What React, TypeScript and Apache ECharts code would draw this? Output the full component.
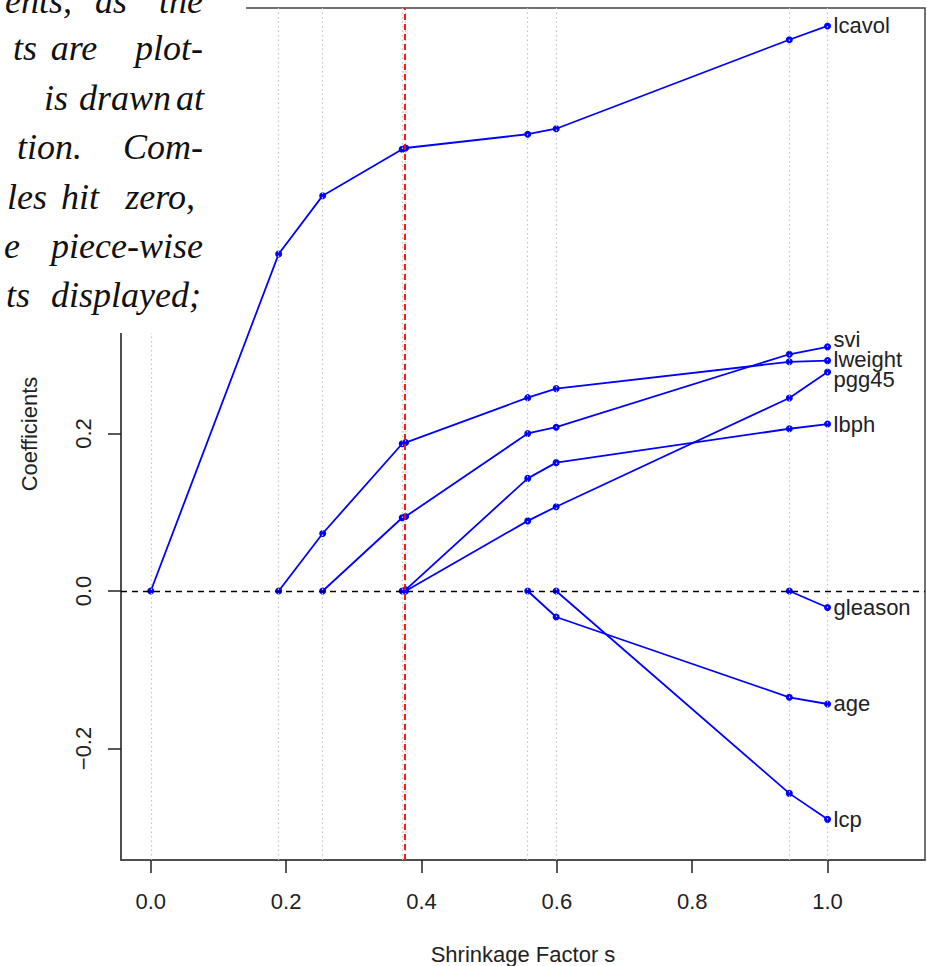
import React, { useEffect, useRef } from "react";
import * as echarts from "echarts";

// Shrinkage factor s at each step of the lasso path
const sValues = [0, 0.189, 0.254, 0.3715, 0.3765, 0.557, 0.599, 0.9435, 1.0];

// Coefficient values per variable at each s (null = not yet in the model)
const lcavol = [0, 0.428, 0.502, 0.561, 0.5625, 0.58, 0.587, 0.7, 0.7175];
const lweight = [null, 0, 0.073, 0.187, 0.1885, 0.2455, 0.257, 0.291, 0.2925];
const svi = [null, null, 0, 0.093, 0.0945, 0.2, 0.208, 0.3006, 0.31];
const lbph = [null, null, null, 0, 0.0015, 0.143, 0.163, 0.206, 0.212];
const pgg45 = [null, null, null, null, 0, 0.089, 0.107, 0.245, 0.278];
const age = [null, null, null, null, null, 0, -0.033, -0.135, -0.1435];
const lcp = [null, null, null, null, null, null, 0, -0.257, -0.29];
const gleason = [null, null, null, null, null, null, null, 0, -0.021];

const variableNames = ["lcavol", "lweight", "svi", "lbph", "pgg45", "age", "lcp", "gleason"];
const variableValues = [lcavol, lweight, svi, lbph, pgg45, age, lcp, gleason];
const labelShift = [0, -1, -7, 0, 7, 0, 0, 0];

const xTicks = [0, 0.2, 0.4, 0.6, 0.8, 1.0];
const yTicks = [-0.2, 0, 0.2, 0.4, 0.6];
const chosenS = 0.3755;

const xAxisTitle = "Shrinkage Factor s";
const yAxisTitle = "Coefficients";

// Cropped running text of the book page (upper-left corner)
const bookWords: { t: string; x: number; y: number; a: "left" | "right" | "center" }[] = [
  { t: "ents,", x: 72, y: 13, a: "right" },
  { t: "as", x: 111, y: 13, a: "center" },
  { t: "the", x: 203, y: 13, a: "right" },
  { t: "ts", x: 37, y: 60, a: "right" },
  { t: "are", x: 74, y: 60, a: "center" },
  { t: "plot-", x: 203, y: 60, a: "right" },
  { t: "is", x: 56, y: 110, a: "center" },
  { t: "drawn", x: 79, y: 110, a: "left" },
  { t: "at", x: 204, y: 110, a: "right" },
  { t: "tion.", x: 82, y: 159, a: "right" },
  { t: "Com-", x: 203, y: 159, a: "right" },
  { t: "les", x: 47, y: 209, a: "right" },
  { t: "hit", x: 80, y: 209, a: "center" },
  { t: "zero,", x: 195, y: 209, a: "right" },
  { t: "e", x: 20, y: 258, a: "right" },
  { t: "piece-wise", x: 203, y: 258, a: "right" },
  { t: "ts", x: 30, y: 307, a: "right" },
  { t: "displayed;", x: 201, y: 307, a: "right" },
];

const SANS = "'Liberation Sans', Arial, sans-serif";
const fmt = (v: number) => {
  const s = Math.abs(v).toFixed(1);
  return v < -1e-9 ? "\u2212" + s : s;
};

export default function App() {
  const ref = useRef<HTMLDivElement>(null);
  useEffect(() => {
    document.body.style.margin = "0";
    if (!ref.current) return;
    const chart = echarts.init(ref.current, undefined, { renderer: "svg" });

    const dataSeries = variableNames.map((name, k) => ({
      name,
      type: "line",
      z: 3,
      data: sValues
        .map((s, i) => (variableValues[k][i] == null ? null : [s, variableValues[k][i]]))
        .filter((d) => d !== null),
      symbol: "circle",
      symbolSize: 7,
      showSymbol: true,
      itemStyle: { color: "#0000ff" },
      lineStyle: { color: "#0000ff", width: 1.8 },
      endLabel: {
        show: true,
        formatter: name,
        distance: 6,
        offset: [0, labelShift[k]],
        fontSize: 22,
        fontFamily: SANS,
        color: "#222",
      },
      animation: false,
    }));

    const bookFont = 36;
    const bookGraphics = bookWords.map((w) => ({
      type: "text",
      z: 101,
      x: w.x,
      y: w.y - bookFont * 0.33,
      style: {
        text: w.t,
        font: `italic ${bookFont}px 'Liberation Serif', 'Times New Roman', serif`,
        fill: "#111",
        textAlign: w.a,
        textVerticalAlign: "middle",
      },
    }));

    const helper = (z: number, lineStyle: any, data: any[]) => ({
      type: "line",
      z,
      data: [[0, 0]],
      showSymbol: false,
      symbol: "none",
      lineStyle: { opacity: 0 },
      silent: true,
      markLine: {
        silent: true,
        precision: 6,
        symbol: ["none", "none"],
        label: { show: false },
        animation: false,
        lineStyle,
        data,
      },
    });

    chart.setOption({
      animation: false,
      grid: {
        left: 121,
        right: 2,
        top: 8,
        bottom: 106,
        containLabel: false,
        outerBoundsMode: "none",
        show: true,
        borderColor: "#444",
        borderWidth: 1.5,
        backgroundColor: "transparent",
      },
      xAxis: {
        type: "value",
        min: -0.044,
        max: 1.144,
        axisLine: { show: true, onZero: false, lineStyle: { color: "#444", width: 1.5 } },
        axisTick: {
          show: true,
          length: 13,
          customValues: xTicks,
          lineStyle: { color: "#222", width: 1.5 },
        },
        axisLabel: {
          customValues: xTicks,
          formatter: (v: number) => fmt(v),
          fontSize: 22,
          fontFamily: SANS,
          color: "#222",
          margin: 30,
        },
        splitLine: { show: false },
        name: xAxisTitle,
        nameLocation: "middle",
        nameGap: 83,
        nameTextStyle: { fontSize: 22, fontFamily: SANS, color: "#222" },
      },
      yAxis: {
        type: "value",
        min: -0.3416,
        max: 0.7403,
        axisLine: { show: true, onZero: false, lineStyle: { color: "#444", width: 1.5 } },
        axisTick: {
          show: true,
          length: 13,
          customValues: yTicks,
          lineStyle: { color: "#222", width: 1.5 },
        },
        axisLabel: {
          customValues: yTicks,
          formatter: (v: number) => fmt(v),
          rotate: 90,
          fontSize: 22,
          fontFamily: SANS,
          color: "#222",
          margin: 27,
        },
        splitLine: { show: false },
        name: yAxisTitle,
        nameLocation: "middle",
        nameGap: 81,
        nameTextStyle: { fontSize: 22, fontFamily: SANS, color: "#222" },
      },
      series: [
        helper(1, { color: "#c4c4c4", type: [1.5, 3], width: 1.2 }, sValues.map((s) => ({ xAxis: s }))),
        helper(2, { color: "#000", type: [6, 5], width: 1.4 }, [{ yAxis: 0 }]),
        ...dataSeries,
        helper(5, { color: "#ff0000", type: [6, 4], width: 1.8 }, [{ xAxis: chosenS }]),
      ],
      graphic: [
        {
          type: "rect",
          z: 100,
          shape: { x: 0, y: 0, width: 246, height: 333 },
          style: { fill: "#ffffff" },
        },
        ...bookGraphics,
      ],
    });

    return () => chart.dispose();
  }, []);

  return <div ref={ref} style={{ width: 927, height: 966 }} />;
}
